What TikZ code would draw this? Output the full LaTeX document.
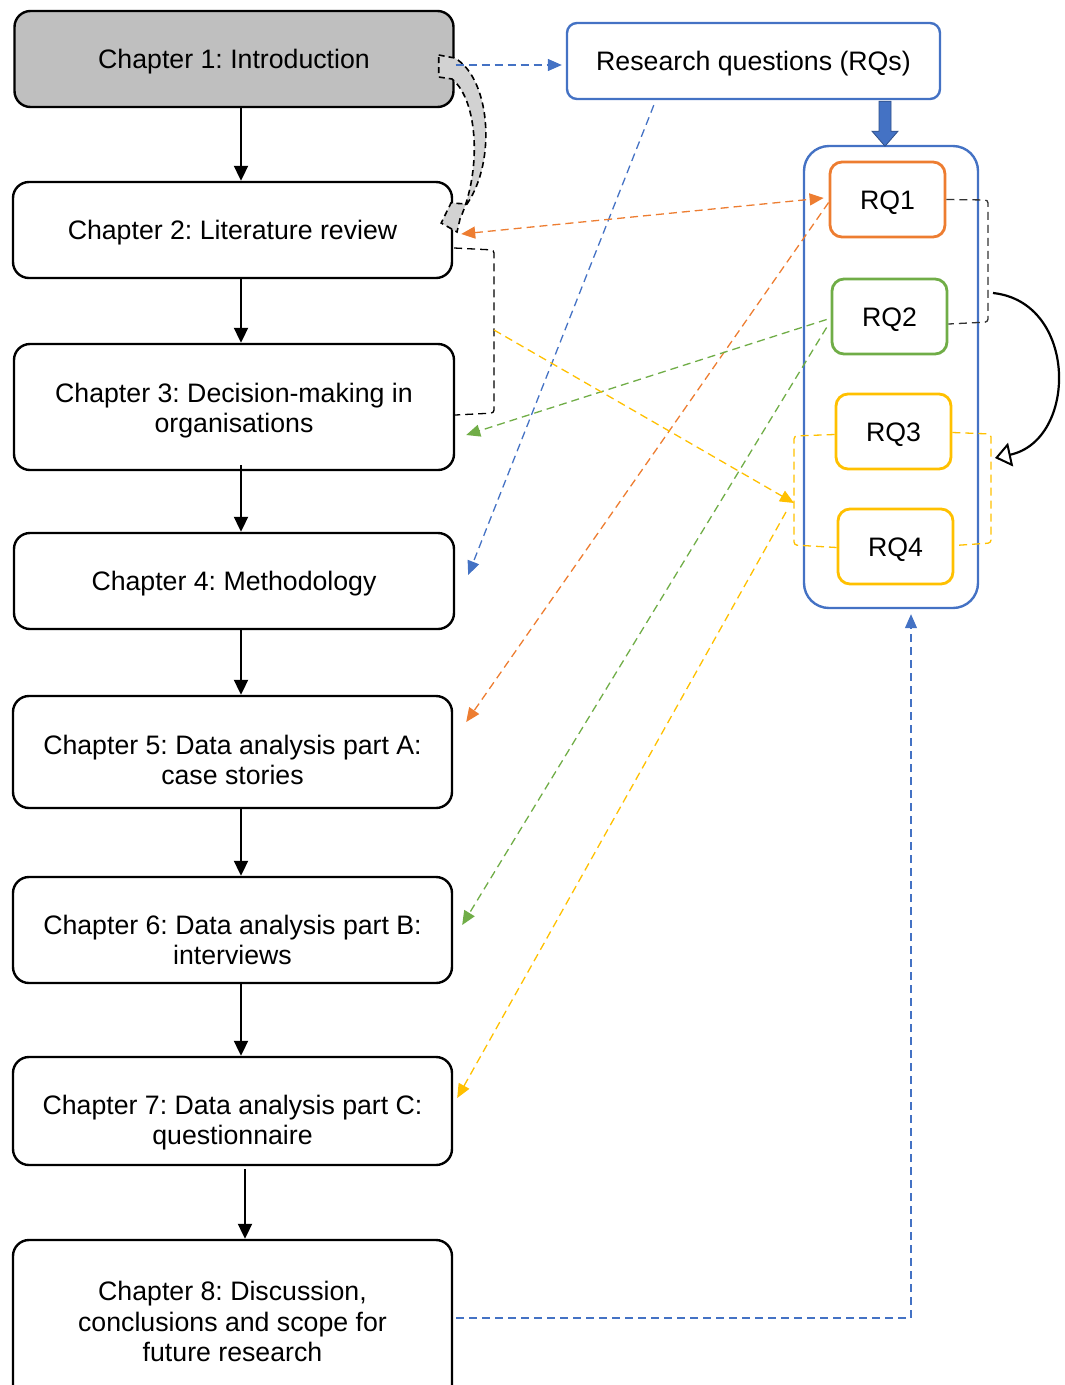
\documentclass[tikz,border=0pt]{standalone}
\usepackage{fontspec}
\setmainfont{Liberation Sans}
\frenchspacing
\usetikzlibrary{arrows.meta,calc}
\definecolor{rqblue}{HTML}{4472C4}
\definecolor{rqorange}{HTML}{ED7D31}
\definecolor{rqgreen}{HTML}{70AD47}
\definecolor{rqyellow}{HTML}{FFC000}
\definecolor{introgray}{HTML}{BFBFBF}
% a taller first line pushes the text block of a box downwards
\newcommand{\lift}[1][25pt]{\rule{0pt}{#1}}
\tikzset{
  lowtext/.style={execute at begin node={\lift}},
  chap/.style={draw, line width=2.4pt, rounded corners=16pt, align=center,
    minimum width=439pt, inner sep=0pt, font=\fontsize{26.7}{30.5}\selectfont, lowtext},
  rqbox/.style={draw, line width=2.8pt, rounded corners=12pt, minimum width=115pt,
    minimum height=75pt, inner sep=0pt, font=\fontsize{26.7}{30.5}\selectfont, lowtext},
  flow/.style={line width=2pt, -{Triangle[length=15pt,width=14pt]}},
  dashlink/.style={line width=1.3pt, dash pattern=on 8pt off 5pt},
  tipend/.style={-{Triangle[length=14pt,width=12pt]}},
  tipboth/.style={{Triangle[length=14pt,width=12pt]}-{Triangle[length=14pt,width=12pt]}},
  bracket/.style={line width=1.3pt, dash pattern=on 8pt off 5pt, rounded corners=3pt},
}
\begin{document}
\begin{tikzpicture}[x=1pt,y=-1pt]
\useasboundingbox (0,0) rectangle (1065,1385);

% chapter column
\node[chap, fill=introgray, minimum height=96pt] (ch1) at (234,59) {Chapter 1: Introduction};
\node[chap, minimum height=96pt] (ch2) at (232.5,230) {Chapter 2: Literature review};
\node[chap, minimum height=126pt, minimum width=440pt] (ch3) at (234,407) {\lift[27pt]Chapter 3: Decision-making in\\organisations};
\node[chap, minimum height=96pt, minimum width=440pt] (ch4) at (234,581) {Chapter 4: Methodology};
\node[chap, minimum height=112pt] (ch5) at (232.5,752) {\lift[35pt]Chapter 5: Data analysis part A:\\case stories};
\node[chap, minimum height=106pt] (ch6) at (232.5,930) {\lift[39pt]Chapter 6: Data analysis part B:\\interviews};
\node[chap, minimum height=108pt] (ch7) at (232.5,1111) {\lift[43pt]Chapter 7: Data analysis part C:\\questionnaire};
\node[chap, minimum height=162pt] (ch8) at (232.5,1321) {\lift[21pt]Chapter 8: Discussion,\\conclusions and scope for\\future research};

\draw[flow] ($(ch1.south)+(7,0)$) -- ($(ch2.north)+(8.5,0)$);
\draw[flow] ($(ch2.south)+(8.5,0)$) -- ($(ch3.north)+(7,0)$);
\draw[flow] ($(ch3.south)+(7,-6)$) -- ($(ch4.north)+(7,0)$);
\draw[flow] ($(ch4.south)+(7,0)$) -- ($(ch5.north)+(8.5,0)$);
\draw[flow] ($(ch5.south)+(8.5,0)$) -- ($(ch6.north)+(8.5,0)$);
\draw[flow] ($(ch6.south)+(8.5,0)$) -- ($(ch7.north)+(8.5,0)$);
\draw[flow] ($(ch7.south)+(12.5,3)$) -- ($(ch8.north)+(12.5,0)$);

% research questions
\node[draw=rqblue, line width=2.4pt, rounded corners=10pt, minimum width=373pt,
  minimum height=76pt, inner sep=0pt, font=\fontsize{26.7}{30.5}\selectfont, lowtext]
  (rqs) at (753.5,61) {Research questions (RQs)};
\node[draw=rqblue, line width=2.4pt, rounded corners=25pt, minimum width=174pt,
  minimum height=462pt, inner sep=0pt] (set) at (891,377) {};
\node[rqbox, draw=rqorange] (rq1) at (887.5,199.5) {RQ1};
\node[rqbox, draw=rqgreen] (rq2) at (889.5,316.5) {RQ2};
\node[rqbox, draw=rqyellow] (rq3) at (893.5,431.5) {RQ3};
\node[rqbox, draw=rqyellow] (rq4) at (895.5,546.5) {RQ4};

% block arrow from the questions into the set
\fill[rqblue, draw=rqblue!70!black, line width=0.8pt]
  ($(rqs.south)+(125.5,1)$) -- ++(12,0) -- ++(0,30) -- ++(7,0) -- ++(-13,15)
  -- ++(-13,-15) -- ++(7,0) -- cycle;

% curved block arrow from chapter 1 back to chapter 2
\path[draw=black, fill=introgray!70!white, line width=1.6pt, dash pattern=on 6pt off 4pt]
  ($(ch1.east)+(-16,-4)$) -- ($(ch1.east)+(0,-1)$)
  .. controls (490,78) and (497,160) .. (467,204)
  -- (451,203) -- ($(ch2.east)+(-12,-7)$) -- (457,232)
  -- (460,219) .. controls (482,170) and (478,100) .. (452,79)
  -- ($(ch1.east)+(-16,18)$) -- cycle;

% dashed links between chapters and questions
\draw[dashlink, rqblue, tipend] ($(ch1.east)+(1,6)$) -- ($(rqs.west)+(-4,4)$);
\draw[dashlink, rqblue, tipend] ($(rqs.south west)+(88,5)$) -- ($(ch4.east)+(13,-6)$);
\draw[dashlink, rqorange, tipboth] ($(ch2.east)+(8,4)$) -- ($(rq1.west)+(-5,-1.5)$);
\draw[dashlink, rqorange, tipend] ($(rq1.west)+(0,3)$) -- ($(ch5.east)+(13,-30)$);
\draw[dashlink, rqgreen, tipend] ($(rq2.west)+(-4,3)$) -- ($(ch3.east)+(11,28)$);
\draw[dashlink, rqgreen, tipend] ($(rq2.west)+(-4,11)$) -- ($(ch6.east)+(9,-5)$);

% bracket joining chapters 2 and 3
\draw[bracket, black] ($(ch2.east)+(1,18)$) -- (494,250) -- (494,413) -- ($(ch3.east)+(0,8)$);
\coordinate (litmid) at (494,330);

% bracket joining RQ3 and RQ4
\draw[bracket, rqyellow] ($(rq3.west)+(0,3)$) -- (794,436) -- (794,545) -- ($(rq4.west)+(0,1)$);
\draw[bracket, rqyellow] ($(rq3.east)+(0,1)$) -- (991,434) -- (991,543) -- ($(rq4.east)+(0,-1)$);
\coordinate (rqlow) at (794,503);
\coordinate (rqlowout) at (786,512);
\draw[dashlink, rqyellow, tipend] (litmid) -- (rqlow);
\draw[dashlink, rqyellow, tipend] (rqlowout) -- ($(ch7.east)+(4,-13)$);

% bracket joining RQ1 and RQ2, with its curved arrow
\draw[bracket, black!80] (rq1.east) -- (988,200) -- (988,322) -- ($(rq2.east)+(0,7.5)$);
\draw[line width=2.2pt, -{Triangle[open,length=16pt,width=24pt,line width=2pt]}]
  (993,293) .. controls (1078,302) and (1078,440) .. (995,458);

% chapter 8 back to the question set
\draw[dashlink, rqblue, line width=1.2pt, tipend]
  ($(ch8.east)+(3,-3)$) -- (911,1318) -- ($(set.south)+(20,5)$);
\end{tikzpicture}
\end{document}
